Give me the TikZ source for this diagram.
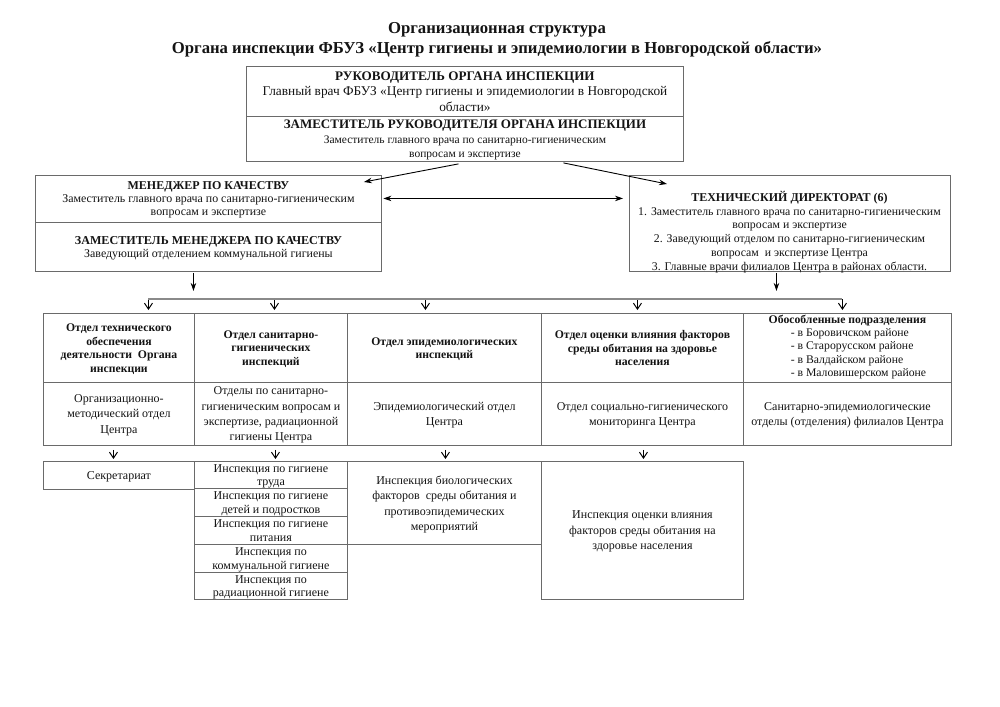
\documentclass[tikz,border=0pt]{standalone}
\usepackage{fontspec}
\setmainfont{Liberation Serif}
\usetikzlibrary{arrows.meta}
\definecolor{color_line}{HTML}{6A6A6A}
\definecolor{color_bus}{HTML}{8A8A8A}
\definecolor{color_text}{HTML}{141414}
\def\celllinewidth{0.9pt}
\def\fsize#1#2{\fontsize{#1}{#2}\selectfont}
\def\orgcell[#1](#2,#3,#4,#5)#6{
    \node[org_cell,#1,minimum width=#4pt-#2pt,minimum height=#5pt-#3pt] at (#2,#3) {#6};
}
\tikzset{
    org_cell/.style={draw=color_line, line width=\celllinewidth, anchor=north west, inner sep=0pt, align=center, text depth=0pt, text=color_text},
    fill_arrow/.style={-{Stealth[length=8pt,width=5.5pt]}, line width=0.9pt},
    both_arrow/.style={{Stealth[length=8pt,width=5.5pt]}-{Stealth[length=8pt,width=5.5pt]}, line width=0.9pt},
    open_arrow/.style={-{Straight Barb[length=6pt,width=8pt]}, line width=1pt},
    bus_line/.style={color_bus, line width=1.6pt}
}

\begin{document}
\begin{tikzpicture}[x=1pt,y=-1pt]
    \fill[white] (0,0) rectangle (1000,706);
    \useasboundingbox (0,0) rectangle (1000,706);
    % heading
    \node[text=color_text, align=center, font=\fsize{16.7}{19.5}\bfseries] (title) at (497,40)
        {Организационная структура\\Органа инспекции ФБУЗ «Центр гигиены и эпидемиологии в Новгородской области»};
    % management
    \orgcell[name=head, font=\fsize{13.35}{15.3}](246,66,683,116){{\fsize{13.1}{15.3}\bfseries РУКОВОДИТЕЛЬ ОРГАНА ИНСПЕКЦИИ}\\
        Главный врач ФБУЗ «Центр гигиены и эпидемиологии в Новгородской\\области»}
    \orgcell[name=deputy, font=\fsize{11.5}{14.6}](246,116,683,161){{\fsize{13}{14.6}\bfseries ЗАМЕСТИТЕЛЬ РУКОВОДИТЕЛЯ ОРГАНА ИНСПЕКЦИИ}\\
        Заместитель главного врача по санитарно-гигиеническим\\вопросам и экспертизе}
    \orgcell[name=mgr, font=\fsize{11.9}{13}](35,175,381,222){{\fsize{12}{13}\bfseries МЕНЕДЖЕР ПО КАЧЕСТВУ}\\
        Заместитель главного врача по санитарно-гигиеническим\\вопросам и экспертизе}
    \orgcell[name=mgr_dep, font=\fsize{11.9}{13.5}](35,222,381,271){{\fsize{12.1}{13.5}\bfseries ЗАМЕСТИТЕЛЬ МЕНЕДЖЕРА ПО КАЧЕСТВУ}\\
        Заведующий отделением коммунальной гигиены}
    \orgcell[name=tech](629,175,950,271){}
    \node[text=color_text, align=center, font=\fsize{11.8}{13.8}] (tech_text) at (789.5,232)
        {{\fsize{12}{13.8}\bfseries ТЕХНИЧЕСКИЙ ДИРЕКТОРАТ (6)}\\
        1. Заместитель главного врача по санитарно-гигиеническим\\вопросам и экспертизе\\
        2. Заведующий отделом по санитарно-гигиеническим\\вопросам \ и экспертизе Центра\\
        3. Главные врачи филиалов Центра в районах области.};
    % departments
    \orgcell[name=dept1, font=\fsize{11.7}{13.5}\bfseries](43,313,194,382){Отдел технического\\обеспечения\\деятельности \ Органа\\инспекции}
    \orgcell[name=dept2, font=\fsize{11.7}{13.5}\bfseries](194,313,347,382){Отдел санитарно-\\гигиенических\\инспекций}
    \orgcell[name=dept3, font=\fsize{11.7}{13.5}\bfseries](347,313,541,382){Отдел эпидемиологических\\инспекций}
    \orgcell[name=dept4, font=\fsize{11.7}{13.5}\bfseries](541,313,743,382){Отдел оценки влияния факторов\\среды обитания на здоровье\\населения}
    \orgcell[name=dept5, text depth=, font=\fsize{11.7}{13.5}](743,313,951,382){\textbf{Обособленные подразделения}\\
        \hspace*{22pt}\begin{tabular}{@{}l@{}}- в Боровичском районе\\- в Старорусском районе\\- в Валдайском районе\\- в Маловишерском районе\end{tabular}}
    \orgcell[name=body1, font=\fsize{12}{15.3}](43,382,194,445){Организационно-\\методический отдел\\Центра}
    \orgcell[name=body2, font=\fsize{12}{15.3}](194,382,347,445){Отделы по санитарно-\\гигиеническим вопросам и\\экспертизе, радиационной\\гигиены Центра}
    \orgcell[name=body3, font=\fsize{12}{15.3}](347,382,541,445){Эпидемиологический отдел\\Центра}
    \orgcell[name=body4, font=\fsize{12}{15.3}](541,382,743,445){Отдел социально-гигиенического\\мониторинга Центра}
    \orgcell[name=body5, font=\fsize{12}{15.3}](743,382,951,445){Санитарно-эпидемиологические\\отделы (отделения) филиалов Центра}
    % inspections
    \orgcell[name=secr, font=\fsize{12}{13.5}](43,461,194,489){Секретариат}
    \orgcell[name=insp1, font=\fsize{12}{13.5}](194,461,347,488){Инспекция по гигиене\\труда}
    \orgcell[name=insp2, font=\fsize{12}{13.5}](194,488,347,516){Инспекция по гигиене\\детей и подростков}
    \orgcell[name=insp3, font=\fsize{12}{13.5}](194,516,347,544){Инспекция по гигиене\\питания}
    \orgcell[name=insp4, font=\fsize{12}{13.5}](194,544,347,572){Инспекция по\\коммунальной гигиене}
    \orgcell[name=insp5, font=\fsize{12}{13.5}](194,572,347,599){Инспекция по\\радиационной гигиене}
    \orgcell[name=bio, font=\fsize{12}{15.5}](347,461,541,544){Инспекция биологических\\факторов \ среды обитания и\\противоэпидемических\\мероприятий}
    \orgcell[name=ocenka, font=\fsize{12}{15.5}](541,461,743,599){Инспекция оценки влияния\\факторов среды обитания на\\здоровье населения}
    % arrows between the boxes
    \draw[fill_arrow] ([xshift=-6.5pt,yshift=-2pt]deputy.south) -- ([xshift=-18pt,yshift=-7pt]mgr.north east);
    \draw[fill_arrow] ([xshift=98.5pt,yshift=-1pt]deputy.south) -- ([xshift=38pt,yshift=-9pt]tech.north west);
    \draw[both_arrow] ([xshift=1.5pt,yshift=0.5pt]mgr.east) -- ([xshift=-6pt,yshift=0.5pt]mgr.east -| tech.west);
    \draw[fill_arrow] ([xshift=-15pt,yshift=-1pt]mgr_dep.south) -- ++(0,18);
    \draw[fill_arrow] ([xshift=-13.5pt,yshift=-1pt]tech.south) -- ++(0,18);
    \coordinate (bus) at (0,299);
    \foreach \n/\dx in {dept1/29.5, dept2/3.5, dept3/-19, dept4/-5, dept5/-5}{
        \path ([xshift=\dx pt,yshift=3pt]\n.north) coordinate (tip_\n);
        \draw[open_arrow] (tip_\n |- bus) -- (tip_\n);
    }
    \draw[bus_line] (tip_dept1 |- bus) -- (tip_dept5 |- bus);
    \foreach \n/\m/\dx in {body1/secr/-5.5, body2/insp1/4.5, body3/bio/1, body4/ocenka/1}{
        \path ([xshift=\dx pt,yshift=-4pt]\n.south) coordinate (from_\n);
        \draw[open_arrow, shorten >=2pt] (from_\n) -- (from_\n |- \m.north);
    }
\end{tikzpicture}
\end{document}
